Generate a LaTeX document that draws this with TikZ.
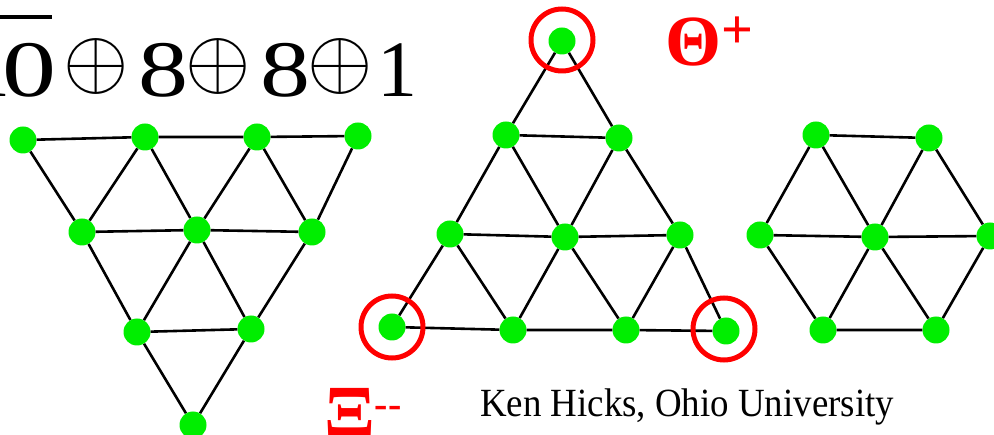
\RequirePackage{fix-cm}
\documentclass[tikz,border=0pt]{standalone}
\usepackage{fontspec}
\usepackage{graphicx}
\setmainfont{Liberation Serif}
\definecolor{dotgreen}{RGB}{0,238,0}
\definecolor{ringred}{RGB}{255,0,0}
\newcommand{\opl}{\raisebox{9pt}{\fontsize{84}{90}\selectfont$\oplus$}}
\begin{document}
\begin{tikzpicture}[x=1pt,y=-1pt,
  dot/.style={circle,fill=dotgreen,draw=none,minimum size=27pt,inner sep=0pt},
  ring/.style={circle,draw=ringred,line width=5pt,minimum size=62pt,inner sep=0pt},
  edge/.style={line width=2.6pt,black},
  redlab/.style={text=ringred,inner sep=0pt,anchor=base west}]
\useasboundingbox[fill=white] (0,0) rectangle (994,435);

% title
\node[anchor=base west,inner sep=0pt,font=\fontsize{80}{80}\selectfont] (rep) at (-30,97)
 {\makebox[0pt][l]{\rule[77.5pt]{82pt}{4pt}}\makebox[40pt]{1}\makebox[38pt]{\scalebox{1.35}[1]{0}}\makebox[95pt]{\opl}\makebox[40pt]{\scalebox{1.25}[1]{8}}\makebox[69pt]{\opl}\makebox[67pt]{\scalebox{1.25}[1]{8}}\makebox[42pt]{\opl}\makebox[72pt]{1}};

% left triangle
\node[dot] (a1) at (23,140) {};
\node[dot] (a2) at (145,137) {};
\node[dot] (a3) at (257,137) {};
\node[dot] (a4) at (358,136) {};
\node[dot] (b1) at (82,232) {};
\node[dot] (b2) at (197,230) {};
\node[dot] (b3) at (312,232) {};
\node[dot] (c1) at (137,332) {};
\node[dot] (c2) at (251,329) {};
\node[dot] (d1) at (193,425) {};
\draw[edge] (a1)--(a2) (a2)--(a3) (a3)--(a4)
  (b1)--(b2) (b2)--(b3) (c1)--(c2)
  (a1)--(b1) (a2)--(b1) (a2)--(b2) (a3)--(b2) (a3)--(b3) (a4)--(b3)
  (b1)--(c1) (b2)--(c1) (b2)--(c2) (b3)--(c2)
  (c1)--(d1) (c2)--(d1);

% middle triangle
\node[dot] (t) at (562,41) {};
\node[dot] (u1) at (506,135) {};
\node[dot] (u2) at (619,138) {};
\node[dot] (v1) at (450,234) {};
\node[dot] (v2) at (565,237) {};
\node[dot] (v3) at (680,235) {};
\node[dot] (w1) at (392,327) {};
\node[dot] (w2) at (513,330) {};
\node[dot] (w3) at (626,330) {};
\node[dot] (w4) at (726,331) {};
\draw[edge] (t)--(u1) (t)--(u2) (u1)--(u2)
  (u1)--(v1) (u1)--(v2) (u2)--(v2) (u2)--(v3)
  (v1)--(v2) (v2)--(v3)
  (v1)--(w1) (v1)--(w2) (v2)--(w2) (v2)--(w3) (v3)--(w3) (v3)--(w4)
  (w1)--(w2) (w2)--(w3) (w3)--(w4);

% hexagon
\node[dot] (h1) at (816,135) {};
\node[dot] (h2) at (929,138) {};
\node[dot] (m1) at (760,235) {};
\node[dot] (hc) at (875,237) {};
\node[dot] (m2) at (990,236) {};
\node[dot] (k1) at (823,330) {};
\node[dot] (k2) at (936,330) {};
\draw[edge] (h1)--(h2) (h1)--(m1) (h1)--(hc) (h2)--(hc) (h2)--(m2)
  (m1)--(hc) (hc)--(m2) (m1)--(k1) (hc)--(k1) (hc)--(k2) (m2)--(k2) (k1)--(k2);

% rings
\node[ring] (rt) at (562,40) {};
\node[ring] (rl) at (392,327) {};
\node[ring] (rr) at (724,329) {};

% labels
\node[redlab,font=\fontsize{72}{72}\selectfont\bfseries] (theta) at (665,66)
 {Θ\raisebox{17pt}{\fontsize{56}{56}\selectfont +}};
\node[redlab,font=\fontsize{75}{75}\selectfont\bfseries] (xi) at (324,438)
 {Ξ\raisebox{20pt}{\fontsize{40}{40}\selectfont -{}-}};
\node[anchor=base west,inner sep=0pt,font=\fontsize{40}{40}\selectfont] (author) at (480,417)
 {\scalebox{0.922}[1]{Ken Hicks, Ohio University}};
\end{tikzpicture}
\end{document}
